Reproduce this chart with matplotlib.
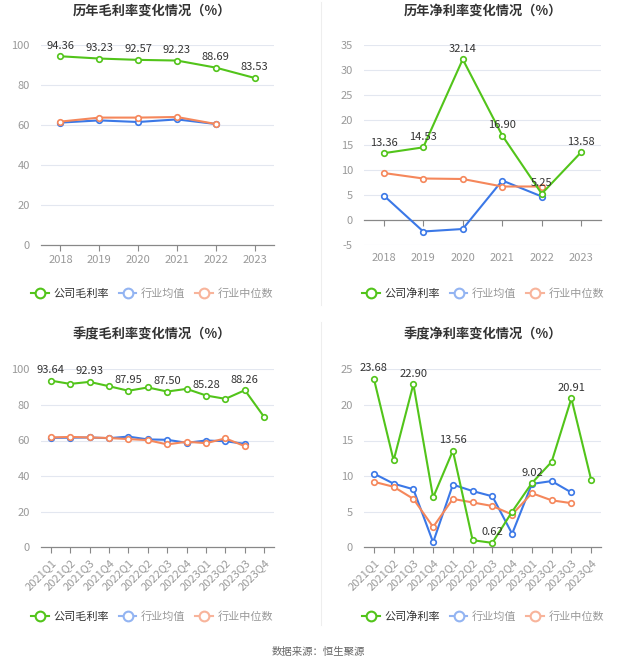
import matplotlib
matplotlib.use("Agg")
import matplotlib.pyplot as plt
from matplotlib.lines import Line2D

plt.rcParams['font.family'] = ['Noto Sans CJK SC', 'DejaVu Sans']

years = ['2018', '2019', '2020', '2021', '2022', '2023']
quarters = ['2021Q1', '2021Q2', '2021Q3', '2021Q4', '2022Q1', '2022Q2',
            '2022Q3', '2022Q4', '2023Q1', '2023Q2', '2023Q3', '2023Q4']

# annual gross margin
y_gross_company = [94.36, 93.23, 92.57, 92.23, 88.69, 83.53]
y_gross_mean = [61.2, 62.3, 61.5, 62.8, 60.5]
y_gross_median = [61.7, 63.7, 63.7, 64.0, 60.5]

# annual net margin
y_net_company = [13.36, 14.53, 32.14, 16.90, 5.25, 13.58]
y_net_mean = [4.9, -2.3, -1.8, 7.9, 4.7]
y_net_median = [9.4, 8.3, 8.2, 6.7, 6.7]

# quarterly gross margin
q_gross_company = [93.64, 91.8, 92.93, 90.5, 87.95, 89.8, 87.50, 89.0, 85.28, 83.4, 88.26, 73.1]
q_gross_mean = [61.5, 61.6, 61.7, 61.3, 62.2, 60.6, 60.4, 58.7, 60.0, 59.6, 58.1]
q_gross_median = [61.7, 62.0, 61.7, 61.4, 60.8, 60.2, 57.8, 59.3, 58.5, 61.2, 56.8]

# quarterly net margin
q_net_company = [23.68, 12.2, 22.90, 7.0, 13.56, 1.0, 0.62, 5.0, 9.02, 12.0, 20.91, 9.5]
q_net_mean = [10.35, 8.94, 8.15, 0.7, 8.8, 7.9, 7.16, 1.9, 8.9, 9.3, 7.7]
q_net_median = [9.2, 8.5, 6.8, 2.85, 6.8, 6.3, 5.8, 4.6, 7.6, 6.6, 6.2]

GREEN = '#52c41a'
BLUE = '#3b78e7'
ORANGE = '#f5875b'
GRID = '#e3e7f0'
TICK = '#999999'

W, H = 637, 668
fig = plt.figure(figsize=(W / 100, H / 100), dpi=100)


def ax_rect(l, r, t, b):
    return [l / W, 1 - b / H, (r - l) / W, (b - t) / H]


def draw(rect, cats, comp, mean, med, ylim, yticks, title, comp_name,
         label_idx, rotate, title_y, legend_y, center_x):
    ax = fig.add_axes(rect)
    x = list(range(len(cats)))
    ax.set_xlim(-0.5, len(cats) - 0.5)
    ax.set_ylim(*ylim)
    ax.set_yticks(yticks)
    ax.set_yticklabels([str(v) for v in yticks])
    for v in yticks:
        if v != 0:
            ax.axhline(v, color=GRID, lw=0.8, zorder=0)
    for s in ['top', 'right', 'left']:
        ax.spines[s].set_visible(False)
    ax.spines['bottom'].set_position(('data', 0))
    ax.spines['bottom'].set_color('#888888')
    ax.spines['bottom'].set_linewidth(0.9)
    ax.tick_params(axis='y', length=0, colors=TICK, labelsize=8, pad=8)
    ax.tick_params(axis='x', length=4, color='#888888', colors=TICK, labelsize=8)
    ax.set_xticks(x)
    if rotate:
        ax.set_xticklabels(cats, rotation=45, ha='right', rotation_mode='anchor')
    else:
        ax.set_xticklabels(cats)
    if ylim[0] < 0:
        ax.tick_params(axis='x', pad=2 + (0 - ylim[0]) / (ylim[1] - ylim[0]) * (rect[3] * H) * 0.72)
    mk = dict(marker='o', markersize=4, markerfacecolor='white', markeredgewidth=1.2)
    ax.plot(range(len(mean)), mean, color=BLUE, lw=1.5, zorder=3, **mk)
    ax.plot(range(len(med)), med, color=ORANGE, lw=1.5, zorder=3, **mk)
    ax.plot(x, comp, color=GREEN, lw=1.5, zorder=4, **mk)
    for i in label_idx:
        ax.annotate(f'{comp[i]:.2f}', (i, comp[i]), xytext=(0, 4),
                    textcoords='offset points', ha='center', va='bottom',
                    fontsize=8, color='#333333', zorder=5)
    fig.text(center_x / W, 1 - title_y / H, title, ha='center', va='center',
             fontsize=9.5, fontweight='bold', color='#333333')
    handles = [
        Line2D([], [], color=GREEN, lw=1.5, marker='o', markersize=7,
               markerfacecolor='white', markeredgewidth=1.5),
        Line2D([], [], color='#93b4f2', lw=1.5, marker='o', markersize=7,
               markerfacecolor='white', markeredgewidth=1.5),
        Line2D([], [], color='#f8b49b', lw=1.5, marker='o', markersize=7,
               markerfacecolor='white', markeredgewidth=1.5),
    ]
    leg = fig.legend(handles, [comp_name, '行业均值', '行业中位数'],
                     loc='center', bbox_to_anchor=(center_x / W, 1 - legend_y / H),
                     ncol=3, frameon=False, fontsize=8, handlelength=1.6,
                     handletextpad=0.4, columnspacing=0.9)
    cols = ['#333333', '#999999', '#999999']
    for t, c in zip(leg.get_texts(), cols):
        t.set_color(c)
    return ax


draw(ax_rect(41, 274, 45, 245), years, y_gross_company, y_gross_mean, y_gross_median,
     (0, 100), [0, 20, 40, 60, 80, 100], '历年毛利率变化情况（%）', '公司毛利率',
     range(6), False, 11, 294, 152)
draw(ax_rect(364, 601, 45, 245), years, y_net_company, y_net_mean, y_net_median,
     (-5, 35), [-5, 0, 5, 10, 15, 20, 25, 30, 35], '历年净利率变化情况（%）', '公司净利率',
     range(6), False, 11, 294, 483)
draw(ax_rect(41, 274, 369.3, 547.3), quarters, q_gross_company, q_gross_mean, q_gross_median,
     (0, 100), [0, 20, 40, 60, 80, 100], '季度毛利率变化情况（%）', '公司毛利率',
     range(0, 12, 2), True, 334, 617, 152)
draw(ax_rect(364, 601, 369.3, 547.3), quarters, q_net_company, q_net_mean, q_net_median,
     (0, 25), [0, 5, 10, 15, 20, 25], '季度净利率变化情况（%）', '公司净利率',
     range(0, 12, 2), True, 334, 617, 483)

# vertical separators
fig.add_artist(Line2D([321 / W, 321 / W], [1 - 2 / H, 1 - 305 / H], color='#eeeeee', lw=0.8))
fig.add_artist(Line2D([321 / W, 321 / W], [1 - 322 / H, 1 - 625 / H], color='#eeeeee', lw=0.8))

fig.text(318 / W, 1 - 652 / H, '数据来源：恒生聚源', ha='center', va='center',
         fontsize=7.5, color='#666666')

fig.savefig('out.png', dpi=100, facecolor='white')
